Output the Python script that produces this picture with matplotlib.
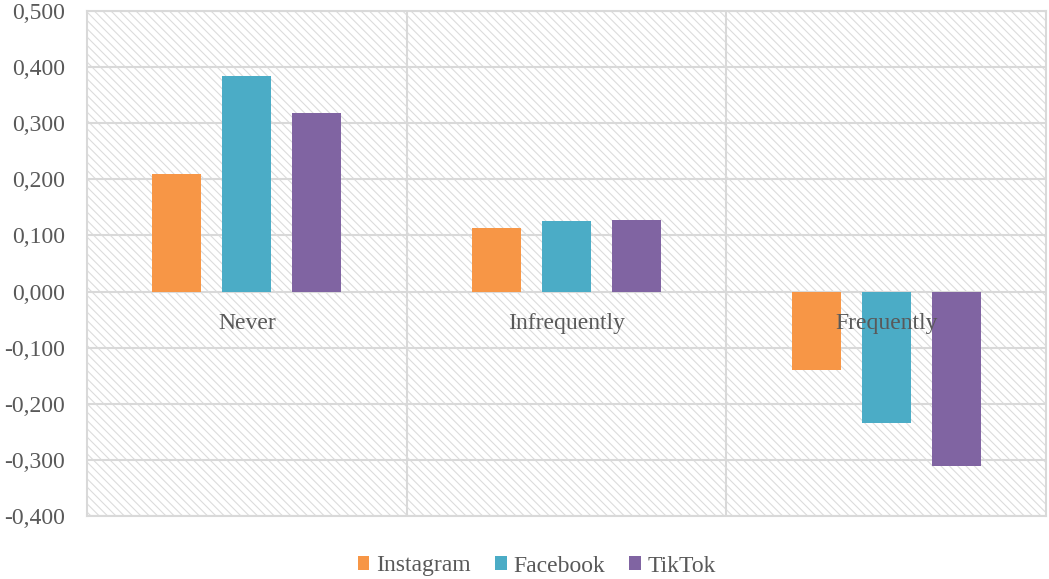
import matplotlib
matplotlib.use("Agg")
import matplotlib.pyplot as plt
from matplotlib.patches import Rectangle
import numpy as np

categories = ["Never", "Infrequently", "Frequently"]
series_names = ["Instagram", "Facebook", "TikTok"]
instagram = [0.210, 0.113, -0.140]
facebook = [0.384, 0.126, -0.234]
tiktok = [0.318, 0.128, -0.311]
series_values = [instagram, facebook, tiktok]
colors = ["#F79646", "#4BACC6", "#8064A2"]
y_ticks = [-0.4, -0.3, -0.2, -0.1, 0.0, 0.1, 0.2, 0.3, 0.4, 0.5]

plt.rcParams["font.family"] = ["Liberation Serif", "DejaVu Serif"]
plt.rcParams["hatch.color"] = "#dcdcdc"
plt.rcParams["hatch.linewidth"] = 0.8

fig = plt.figure(figsize=(10.49, 5.79), dpi=100)
ax = fig.add_axes([87 / 1049, 1 - 516 / 579, (1046 - 87) / 1049, (516 - 11) / 579])

# hatched plot-area background
bg = Rectangle((0, 0), 1, 1, transform=ax.transAxes, facecolor="white",
               edgecolor="#dcdcdc", hatch="\\" * 4, linewidth=0, zorder=0)
ax.add_patch(bg)

x = np.arange(len(categories))
width = 0.153
offsets = [-0.219, 0.0, 0.219]
for vals, name, col, off in zip(series_values, series_names, colors, offsets):
    ax.bar(x + off, vals, width, color=col, label=name, zorder=3)

ax.set_xlim(-0.5, 2.5)
ax.set_ylim(-0.4, 0.5)
ax.set_yticks(y_ticks)
ax.set_yticklabels([f"{v:.3f}".replace(".", ",") for v in y_ticks])
ax.tick_params(axis="y", length=0, pad=16, labelsize=17, labelcolor="#595959")
ax.set_xticks([])

# grid lines
for v in y_ticks:
    ax.axhline(v, color="#d9d9d9", linewidth=1.5, zorder=1)
for b in [0.5, 1.5]:
    ax.axvline(b, color="#d9d9d9", linewidth=1.5, zorder=1)

for s in ax.spines.values():
    s.set_color("#d9d9d9")
    s.set_linewidth(1.5)

# category labels just below the zero line
for xi, c in zip(x, categories):
    ax.text(xi, -0.057, c, ha="center", va="center", fontsize=17,
            color="#595959", zorder=4)

leg = fig.legend(loc="center", bbox_to_anchor=(537 / 1049, 1 - 566 / 579), ncol=3,
                 frameon=False, fontsize=17, handlelength=0.5, handleheight=0.5,
                 handletextpad=0.3, columnspacing=1.0)
for t in leg.get_texts():
    t.set_color("#595959")

fig.savefig("out.png", dpi=100)
